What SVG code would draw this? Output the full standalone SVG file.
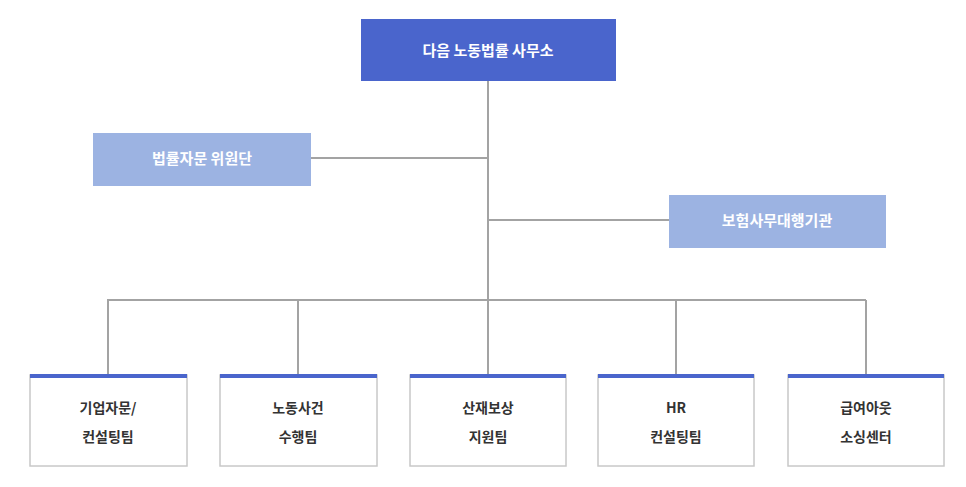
<svg xmlns="http://www.w3.org/2000/svg" width="966" height="487" viewBox="0 0 966 487">
<style>
text{font-family:"Noto Sans CJK KR","Noto Sans",sans-serif;text-anchor:middle;font-weight:bold}
.w{fill:#fff;font-size:15px}
.d{fill:#333;font-size:14px}
.c{stroke:#a3a3a3;stroke-width:2;fill:none}
.b{fill:#fff;stroke:#c8c8c8;stroke-width:1.5}
.t{fill:#4a65cc}
</style>
<rect width="966" height="487" fill="#fff"/>
<g id="connectors">
<path class="c" d="M488 81V300M311 158H488M488 220H669M107 300H866M108 300V375M298 300V375M488 300V375M676 300V375M866 300V375"/>
</g>
<g id="top"><rect x="361" y="19" width="255" height="62" fill="#4a65cc"/><text class="w" x="488" y="56" font-size="17">다음 노동법률 사무소</text></g>
<g id="advisory"><rect x="93" y="133" width="218" height="53" fill="#9cb3e2"/><text class="w" x="202" y="164">법률자문 위원단</text></g>
<g id="insurance"><rect x="669" y="195" width="217" height="53" fill="#9cb3e2"/><text class="w" x="777" y="226">보험사무대행기관</text></g>
<g id="n1"><rect class="b" x="30" y="375" width="157" height="91"/><rect class="t" x="30" y="374" width="157" height="4"/><text class="d" x="108" y="413">기업자문/</text><text class="d" x="108" y="442">컨설팅팀</text></g>
<g id="n2"><rect class="b" x="220" y="375" width="157" height="91"/><rect class="t" x="220" y="374" width="157" height="4"/><text class="d" x="298" y="413">노동사건</text><text class="d" x="298" y="442">수행팀</text></g>
<g id="n3"><rect class="b" x="410" y="375" width="156" height="91"/><rect class="t" x="410" y="374" width="156" height="4"/><text class="d" x="488" y="413">산재보상</text><text class="d" x="488" y="442">지원팀</text></g>
<g id="n4"><rect class="b" x="598" y="375" width="156" height="91"/><rect class="t" x="598" y="374" width="156" height="4"/><text class="d" x="676" y="413">HR</text><text class="d" x="676" y="442">컨설팅팀</text></g>
<g id="n5"><rect class="b" x="788" y="375" width="156" height="91"/><rect class="t" x="788" y="374" width="156" height="4"/><text class="d" x="866" y="413">급여아웃</text><text class="d" x="866" y="442">소싱센터</text></g>
</svg>
